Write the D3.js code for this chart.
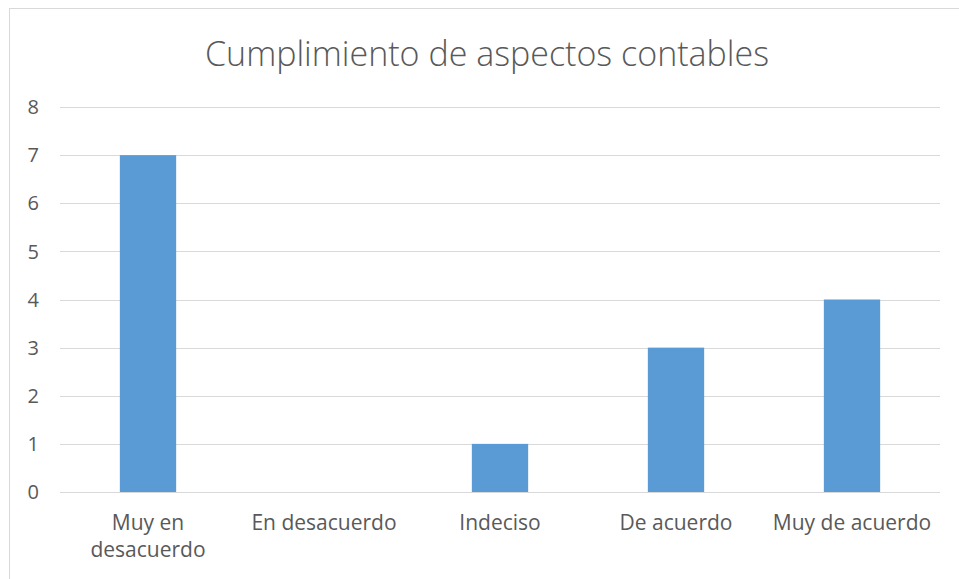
<!DOCTYPE html>
<html>
<head>
  <meta charset="utf-8">
  <title>Cumplimiento de aspectos contables</title>
  <script src="https://d3js.org/d3.v7.min.js"></script>
  <style>
    body { margin: 0; background: #fff; }
    text { font-family: "Open Sans", sans-serif; fill: #595959; }
  </style>
</head>
<body>
  <svg id="chart" width="959" height="579"></svg>
  <script>
    // data
    const categories = ["Muy en desacuerdo", "En desacuerdo", "Indeciso", "De acuerdo", "Muy de acuerdo"];
    const values = [7, 0, 1, 3, 4];
    const yTicks = [0, 1, 2, 3, 4, 5, 6, 7, 8];
    const catLines = [["Muy en", "desacuerdo"], ["En desacuerdo"], ["Indeciso"], ["De acuerdo"], ["Muy de acuerdo"]];

    const svg = d3.select("#chart");

    // chart frame (cut off at right/bottom like the reference)
    svg.append("rect")
      .attr("x", 9.5).attr("y", 8.5)
      .attr("width", 960).attr("height", 580)
      .attr("fill", "#fff")
      .attr("stroke", "#d9d9d9");

    const plotL = 60, plotR = 940, plotT = 107, plotB = 492;

    const x = d3.scaleBand().domain(categories).range([plotL, plotR]).paddingInner(0.68).paddingOuter(0.34);
    const y = d3.scaleLinear().domain([0, 8]).range([plotB, plotT]);

    // gridlines
    svg.append("g").selectAll("line")
      .data(yTicks)
      .join("line")
      .attr("x1", plotL).attr("x2", plotR)
      .attr("y1", d => Math.round(y(d)) + 0.5)
      .attr("y2", d => Math.round(y(d)) + 0.5)
      .attr("stroke", "#d9d9d9")
      .attr("stroke-width", 1);

    // y labels
    svg.append("g").selectAll("text")
      .data(yTicks)
      .join("text")
      .attr("x", 39)
      .attr("y", d => y(d))
      .attr("dy", "0.36em")
      .attr("text-anchor", "end")
      .style("font-size", "20px")
      .text(d => d);

    // bars
    svg.append("g").selectAll("rect")
      .data(values)
      .join("rect")
      .attr("x", (d, i) => x(categories[i]))
      .attr("width", x.bandwidth())
      .attr("y", d => y(d))
      .attr("height", d => plotB - y(d))
      .attr("fill", "#5b9bd5");

    // category labels
    const cl = svg.append("g").selectAll("text")
      .data(catLines)
      .join("text")
      .attr("x", (d, i) => x(categories[i]) + x.bandwidth() / 2)
      .attr("y", 530)
      .attr("text-anchor", "middle")
      .style("font-size", "21px");
    cl.selectAll("tspan")
      .data(d => d)
      .join("tspan")
      .attr("x", function () { return d3.select(this.parentNode).attr("x"); })
      .attr("dy", (d, i) => i === 0 ? 0 : 27)
      .text(d => d);

    // title
    svg.append("text")
      .attr("x", 487).attr("y", 66)
      .attr("text-anchor", "middle")
      .style("font-size", "34px")
      .style("font-weight", 300)
      .text("Cumplimiento de aspectos contables");
  </script>
</body>
</html>
